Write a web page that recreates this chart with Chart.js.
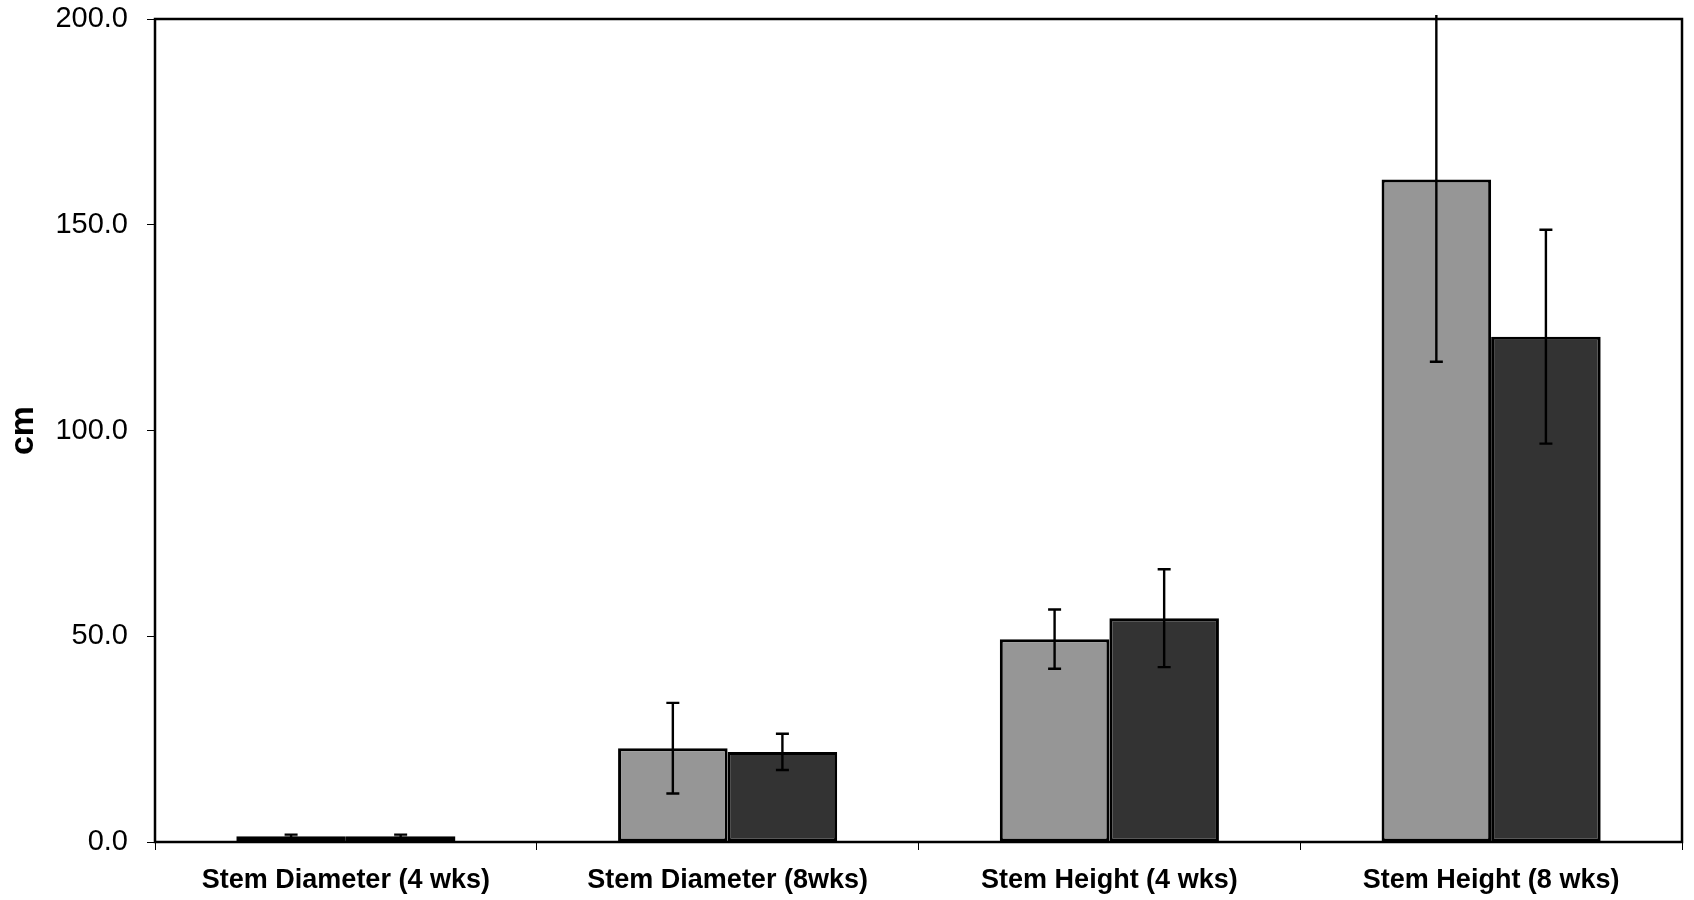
<!DOCTYPE html>
<html>
<head>
<meta charset="utf-8">
<script src="https://cdn.jsdelivr.net/npm/chart.js@4"></script>
<style>
  html, body { margin: 0; padding: 0; background: #ffffff; }
  #wrap { width: 1694px; height: 900px; }
</style>
</head>
<body>
<div id="wrap"><canvas id="c" width="1694" height="900"></canvas></div>
<script>
// Growth measurements, two treatments per category
const categories = ['Stem Diameter (4 wks)', 'Stem Diameter (8wks)', 'Stem Height (4 wks)', 'Stem Height (8 wks)'];
const lightMeans = [1.4, 22.8, 49.3, 161.0];
const lightErrors = [0.4, 11.0, 7.2, 44.3];
const darkMeans = [1.4, 21.9, 54.4, 122.8];
const darkErrors = [0.4, 4.4, 11.9, 26.0];
const yTicks = [0, 50, 100, 150, 200];
const yTitle = 'cm';

const errorSets = [lightErrors, darkErrors];

// Box around the plotting area
const framePlugin = {
  id: 'frame',
  afterDatasetsDraw(chart) {
    const { ctx, chartArea: a } = chart;
    ctx.save();
    ctx.strokeStyle = '#000';
    ctx.lineWidth = 2.5;
    ctx.strokeRect(a.left, a.top, a.right - a.left, a.bottom - a.top);
    ctx.restore();
  }
};

// Whiskers (mean ± error) with flat caps
const errorBarPlugin = {
  id: 'errorBars',
  afterDatasetsDraw(chart) {
    const { ctx, chartArea: a } = chart;
    const y = chart.scales.y;
    ctx.save();
    ctx.beginPath();
    ctx.rect(a.left, a.top - 4, a.right - a.left, a.bottom - a.top + 4);
    ctx.clip();
    ctx.strokeStyle = '#000';
    ctx.lineWidth = 2.4;
    chart.data.datasets.forEach((ds, di) => {
      const meta = chart.getDatasetMeta(di);
      meta.data.forEach((bar, i) => {
        const v = ds.data[i];
        const e = errorSets[di][i];
        const x = bar.x;
        const yHi = y.getPixelForValue(v + e);
        const yLo = y.getPixelForValue(v - e);
        const cap = 6.5;
        ctx.beginPath();
        ctx.moveTo(x, yHi); ctx.lineTo(x, yLo);
        ctx.moveTo(x - cap, yHi); ctx.lineTo(x + cap, yHi);
        ctx.moveTo(x - cap, yLo); ctx.lineTo(x + cap, yLo);
        ctx.stroke();
      });
    });
    ctx.restore();
  }
};

new Chart(document.getElementById('c'), {
  type: 'bar',
  data: {
    labels: categories,
    datasets: [
      { data: lightMeans, backgroundColor: '#969696', borderColor: '#000', borderWidth: 3, borderSkipped: false },
      { data: darkMeans, backgroundColor: '#333333', borderColor: '#000', borderWidth: 3, borderSkipped: false }
    ]
  },
  options: {
    responsive: false,
    animation: false,
    devicePixelRatio: 1,
    layout: { padding: { top: 19, right: 12, bottom: 0, left: 0 } },
    datasets: { bar: { barPercentage: 1.0, categoryPercentage: 0.574 } },
    plugins: { legend: { display: false }, tooltip: { enabled: false } },
    scales: {
      x: {
        offset: true,
        grid: { offset: true, drawOnChartArea: false, drawTicks: true, tickLength: 8, color: '#000', lineWidth: 1 },
        border: { display: true, color: '#000', width: 2 },
        ticks: {
          color: '#000',
          padding: 14,
          maxRotation: 0,
          autoSkip: false,
          font: { family: '"Liberation Sans", Arial, sans-serif', size: 27, weight: 'bold' }
        },
        afterFit(scale) {
          scale.height = 58;
          scale.paddingLeft = 0; scale.paddingRight = 0;
        }
      },
      y: {
        min: 0,
        max: 200,
        afterBuildTicks(scale) { scale.ticks = yTicks.map(v => ({ value: v })); },
        grid: { drawOnChartArea: false, drawTicks: true, tickLength: 8, color: '#000', lineWidth: 1 },
        border: { display: true, color: '#000', width: 2 },
        ticks: {
          color: '#000',
          padding: 19,
          callback: v => Number(v).toFixed(1),
          font: { family: '"Liberation Sans", Arial, sans-serif', size: 29 }
        },
        title: {
          display: true,
          text: yTitle,
          color: '#000',
          padding: { top: 3, bottom: 0 },
          font: { family: '"Liberation Sans", Arial, sans-serif', size: 34, weight: 'bold' }
        },
        afterFit(scale) {
          scale.width = 155;
          scale.paddingTop = 0; scale.paddingBottom = 0;
        }
      }
    }
  },
  plugins: [framePlugin, errorBarPlugin]
});
</script>
</body>
</html>
